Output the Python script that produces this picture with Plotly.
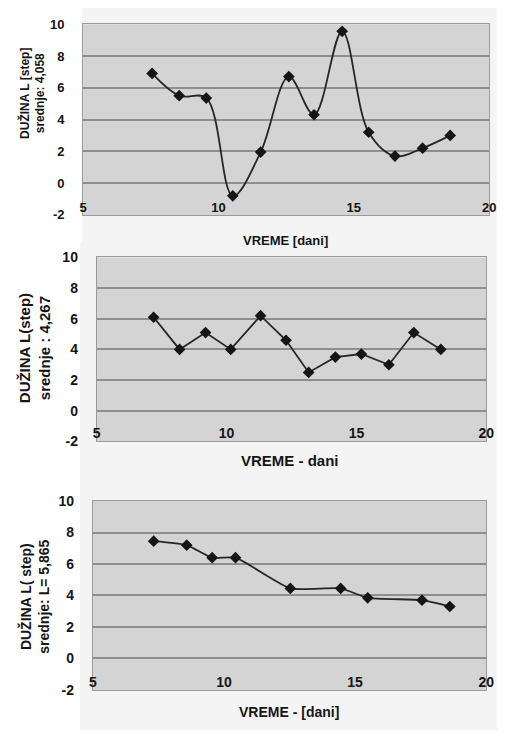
import plotly.graph_objects as go

# --- data -------------------------------------------------------------
days_1 = [7.55, 8.55, 9.55, 10.53, 11.56, 12.6, 13.53, 14.57, 15.55, 16.52, 17.54, 18.56]
length_1 = [6.9, 5.5, 5.35, -0.8, 1.95, 6.7, 4.3, 9.55, 3.2, 1.7, 2.2, 3.0]

days_2 = [7.19, 8.19, 9.19, 10.16, 11.31, 12.29, 13.16, 14.19, 15.19, 16.25, 17.21, 18.25]
length_2 = [6.1, 4.0, 5.1, 4.0, 6.2, 4.6, 2.5, 3.5, 3.7, 3.0, 5.1, 4.0]

days_3 = [7.32, 8.58, 9.55, 10.44, 12.53, 14.45, 15.48, 17.55, 18.61]
length_3 = [7.45, 7.2, 6.4, 6.4, 4.45, 4.45, 3.85, 3.7, 3.3]

x_ticks = [5, 10, 15, 20]
x_tick_labels = ["5", "10", "15", "20"]
y_ticks = [-2, 0, 2, 4, 6, 8, 10]
y_tick_labels = ["-2", "0", "2", "4", "6", "8", "10"]

y_titles = [
    "DUŽINA L [step]<br>srednje: 4,058",
    "DUŽINA L(step)<br>srednje : 4,267",
    "DUŽINA L( step)<br>srednje: L= 5,865",
]
x_titles = ["VREME [dani]", "VREME - dani", "VREME - [dani]"]

W, H = 505, 738
FONT = "Liberation Sans, Arial, sans-serif"
INK = "#151515"
LINE = "#262626"
PLOT_BG = "#d4d4d4"
GRID = "#8e8e8e"

# pixel frames of the three plot areas: left, right, top(y=10), bottom(y=-2)
frames = [
    (81, 497, 16.5, 211.5),
    (95, 494, 255, 443),
    (91, 494, 504, 697),
]

series = [
    (days_1, length_1, "spline", 1.0),
    (days_2, length_2, "linear", 0),
    (days_3, length_3, "spline", 0.5),
]

fig = go.Figure()
layout = dict(
    width=W, height=H,
    margin=dict(l=0, r=0, t=0, b=0),
    paper_bgcolor="white",
    plot_bgcolor="rgba(0,0,0,0)",
    showlegend=False,
    annotations=[],
    shapes=[],
)

# light chart-area backdrop behind each panel
backdrops = [(80, 505, 0, 250), (78, 505, 240, 490), (78, 505, 490, 738)]
for x0, x1, y0, y1 in backdrops:
    layout["shapes"].append(dict(
        type="rect", xref="paper", yref="paper", layer="below",
        x0=x0 / W, x1=x1 / W, y0=1 - y1 / H, y1=1 - y0 / H,
        fillcolor="#f4f4f4", line=dict(width=0),
    ))

tick_sizes = [13, 14, 14]
title_sizes = [12, 15, 14]
xtitle_sizes = [13, 15, 14]
ytitle_pos = [(28.5, 87), (31.5, 348), (31.5, 602)]
xtitle_pos = [(288, 238), (293, 463), (292, 720)]

for i, ((xs, ys, shape, smooth), (l, r, t, b)) in enumerate(zip(series, frames)):
    n = "" if i == 0 else str(i + 1)
    xa, ya = "x" + n, "y" + n
    fig.add_trace(go.Scatter(
        x=xs, y=ys, xaxis=xa, yaxis=ya, mode="lines+markers",
        line=dict(color=LINE, width=1.8, shape=shape, smoothing=smooth),
        marker=dict(symbol="diamond", size=9, color=INK),
    ))
    # grey plot-area fill, drawn in the subplot's own layer under the grid
    layout["shapes"].append(dict(
        type="rect", xref=xa + " domain", yref=ya + " domain", layer="below",
        x0=0, x1=1, y0=0, y1=1, fillcolor=PLOT_BG, line=dict(width=0),
    ))
    layout["xaxis" + n] = dict(
        domain=[l / W, r / W], anchor=ya, range=[5, 20],
        tickvals=x_ticks, ticktext=x_tick_labels, ticks="",
        showgrid=False, zeroline=False,
        showline=True, linecolor="#9a9a9a", linewidth=1, mirror=True,
        ticklabelposition="inside", ticklabeloverflow="allow",
        tickfont=dict(family=FONT, size=tick_sizes[i], color=INK, weight="bold"),
    )
    layout["yaxis" + n] = dict(
        domain=[1 - b / H, 1 - t / H], anchor=xa, range=[-2, 10],
        tickvals=y_ticks, ticktext=y_tick_labels, ticks="",
        showgrid=True, gridcolor=GRID, gridwidth=1.5,
        zeroline=False, showline=True, linecolor="#9a9a9a", linewidth=1, mirror=True,
        ticklabelstandoff=15,
        tickfont=dict(family=FONT, size=tick_sizes[i], color=INK, weight="bold"),
    )

    tx, ty = ytitle_pos[i]
    layout["annotations"].append(dict(
        text=y_titles[i], xref="paper", yref="paper",
        x=tx / W, y=1 - ty / H, xanchor="center", yanchor="middle",
        textangle=-90, showarrow=False, align="center",
        font=dict(family=FONT, size=title_sizes[i], color=INK, weight="bold"),
    ))
    qx, qy = xtitle_pos[i]
    layout["annotations"].append(dict(
        text=x_titles[i], xref="paper", yref="paper",
        x=qx / W, y=1 - qy / H, xanchor="center", yanchor="middle",
        showarrow=False,
        font=dict(family=FONT, size=xtitle_sizes[i], color=INK, weight="bold"),
    ))

fig.update_layout(**layout)
fig.write_html("out.html")
